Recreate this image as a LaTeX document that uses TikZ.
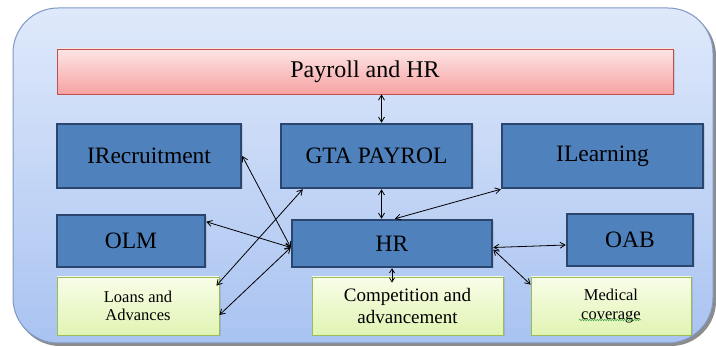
\documentclass[tikz,border=0pt]{standalone}
\usepackage{fontspec}
\setmainfont{Liberation Serif}
\usetikzlibrary{arrows.meta,shadows,decorations.pathmorphing}

\definecolor{bgtop}{HTML}{DFE9FB}
\definecolor{bgbottom}{HTML}{A9C3F1}
\definecolor{bgborder}{HTML}{7F98C4}
\definecolor{bgshadow}{HTML}{8C8C8C}
\definecolor{titletop}{HTML}{FDE5E5}
\definecolor{titlebottom}{HTML}{F7A2A2}
\definecolor{titleborder}{HTML}{C0504D}
\definecolor{modblue}{HTML}{4F81BD}
\definecolor{modborder}{HTML}{2B466E}
\definecolor{opttop}{HTML}{F8FDE8}
\definecolor{optbottom}{HTML}{E1F4B3}
\definecolor{optborder}{HTML}{9BBB59}
\definecolor{spellgreen}{HTML}{3FA33F}

\begin{document}
\begin{tikzpicture}[x=1pt,y=-1pt,
  title/.style={draw=titleborder, line width=0.8pt, top color=titletop, bottom color=titlebottom,
    inner sep=0pt, font=\fontsize{24}{28}\selectfont, drop shadow={shadow xshift=1.5pt, shadow yshift=-1.5pt, opacity=0.25}},
  module/.style={draw=modborder, line width=2.5pt, fill=modblue, inner sep=0pt,
    font=\fontsize{23.5}{28}\selectfont, drop shadow={shadow xshift=1.5pt, shadow yshift=-1.5pt, opacity=0.25}},
  option/.style={draw=optborder, line width=0.8pt, top color=opttop, bottom color=optbottom,
    inner sep=0pt, align=center, drop shadow={shadow xshift=1.5pt, shadow yshift=-1.5pt, opacity=0.25}},
  link/.style={<->, >={Straight Barb[length=5pt,width=6pt]}, line width=0.8pt},
  squiggle/.style={spellgreen, line width=0.5pt, decorate, decoration={snake, amplitude=0.7pt, segment length=2.5pt}}]

 \useasboundingbox (0,0) rectangle (716,347);

	% Fond
 \fill[bgshadow, rounded corners=45] (15,11) rectangle (716,346);
 \draw[bgborder, line width=1pt, top color=bgtop, bottom color=bgbottom, rounded corners=45] (13,8) rectangle (713,343);

	% Boites
 \node[title, minimum width=616, minimum height=45] (payroll) at (365,71.5) {Payroll and HR};

 \node[module, minimum width=184, minimum height=64] (irec) at (149,156) {IRecruitment};
 \node[module, minimum width=191, minimum height=64] (gta) at (376.5,156) {GTA PAYROL};
 \node[module, minimum width=201, minimum height=64] (ilearn) at (602.5,156) {ILearning};

 \node[module, minimum width=148, minimum height=52] (olm) at (131,241) {OLM};
 \node[module, minimum width=200, minimum height=47] (hr) at (392,243.5) {HR};
 \node[module, minimum width=126, minimum height=52] (oab) at (630,240) {OAB};

 \node[option, minimum width=162, minimum height=58, font=\fontsize{16.5}{18.5}\selectfont] (loans) at (138,306) {Loans and\\Advances};
 \node[option, minimum width=191, minimum height=58, font=\fontsize{19}{22}\selectfont] (comp) at (407.5,306) {Competition and\\advancement};
 \node[option, minimum width=160, minimum height=58, font=\fontsize{16.5}{19}\selectfont] (med) at (611,306) {Medical\\coverage};
 \draw[squiggle] ([xshift=-32,yshift=-14]med.center) -- ([xshift=30,yshift=-14]med.center);

	% Liaisons
 \coordinate (axetop) at ([xshift=5]gta.north);
 \coordinate (axebot) at ([xshift=5]gta.south);
 \draw[link] (axetop) -- (axetop |- payroll.south);
 \draw[link] (axebot) -- (axebot |- hr.north);

 \draw[link] (irec.east) -- ([yshift=-4]hr.west);
 \draw[link] ([yshift=-8]olm.north east) -- ([yshift=-4]hr.west);
 \draw[link] ([yshift=-9]loans.east) -- ([yshift=-4]hr.west);
 \draw[link] ([xshift=23]gta.south west) -- ([xshift=-3,yshift=-9]loans.north east);

 \draw[link] (ilearn.south west) -- ([xshift=3]hr.north);
 \draw[link] ([yshift=-4]hr.east) -- ([yshift=-5]oab.west);
 \draw[link] ([yshift=-6]hr.east) -- ([yshift=-8]med.north west);
 \draw[link, >={Straight Barb[length=4pt,width=5pt]}] (hr.south) -- ([yshift=-6]hr.south |- comp.north);

\end{tikzpicture}
\end{document}
